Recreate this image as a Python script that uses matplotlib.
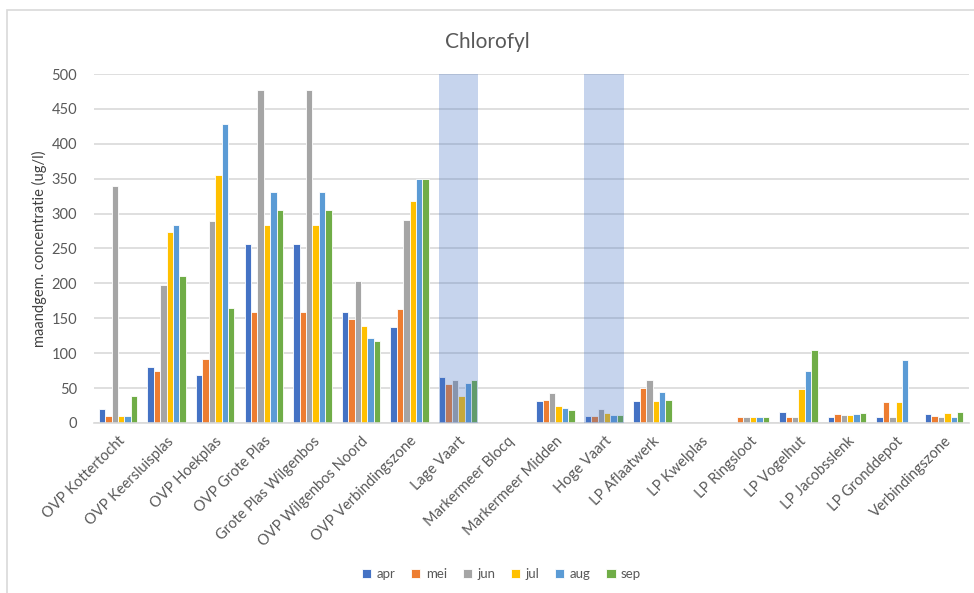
import matplotlib
matplotlib.use("Agg")
import matplotlib.pyplot as plt
import numpy as np
from matplotlib.patches import Rectangle

plt.rcParams['font.family'] = ['Lato', 'DejaVu Sans']

locations = [
    "OVP Kottertocht", "OVP Keersluisplas", "OVP Hoekplas", "OVP Grote Plas",
    "Grote Plas Wilgenbos", "OVP Wilgenbos Noord", "OVP Verbindingszone",
    "Lage Vaart", "Markermeer Blocq", "Markermeer Midden", "Hoge Vaart",
    "LP Aflaatwerk", "LP Kwelplas", "LP Ringsloot", "LP Vogelhut",
    "LP Jacobsslenk", "LP Gronddepot", "Verbindingszone",
]
months = ["apr", "mei", "jun", "jul", "aug", "sep"]
nan = np.nan

apr = [20, 80, 69, 257, 257, 159, 137, 66, nan, 31, 10.5, 31, nan, nan, 16, 9, 9, 13]
mei = [10, 74, 91, 159, 159, 149, 163, 56, nan, 33, 10.5, 50, nan, 9, 9, 13, 30, 10.5]
jun = [340, 198, 289, 477, 477, 203, 291, 61, nan, 43, 20, 61, nan, 9, 9, 11.5, 9, 9]
jul = [10, 274, 355, 283, 283, 139, 318, 38, nan, 25, 15, 32, nan, 9, 48, 11.5, 30, 15]
aug = [10, 283, 429, 331, 331, 122, 350, 57, nan, 22, 11.5, 44, nan, 9, 74, 13, 90, 9]
sep = [39, 211, 165, 305, 305, 118, 350, 61, nan, 18, 11.5, 33, nan, 9, 104, 15, nan, 16]

highlighted = ["Lage Vaart", "Hoge Vaart"]

colors = ["#4472C4", "#ED7D31", "#A5A5A5", "#FFC000", "#5B9BD5", "#70AD47"]
series = [apr, mei, jun, jul, aug, sep]

fig = plt.figure(figsize=(9.74, 5.93), dpi=100)
ax = fig.add_axes([0.0962, 0.2867, 0.8982, 0.5885])

x = np.arange(len(locations))
group_w = 0.79
bar_w = group_w / len(months)
for i, (vals, col, name) in enumerate(zip(series, colors, months)):
    offs = -group_w / 2 + bar_w * (i + 0.5)
    ax.bar(x + offs, vals, width=bar_w, color=col, edgecolor="white",
           linewidth=0.6, label=name, zorder=2)

# translucent bands over the selected locations
for name in highlighted:
    idx = locations.index(name)
    ax.bar(idx, 500, width=group_w + 0.02, color="#4472C4", alpha=0.30,
           linewidth=0, zorder=3)

ax.set_xlim(-0.5, len(locations) - 0.5)
ax.set_ylim(0, 500)
ax.set_yticks(np.arange(0, 501, 50))
ax.yaxis.grid(True, color="#d9d9d9", linewidth=1.2, zorder=0)
ax.set_axisbelow(True)
for s in ["top", "right", "left"]:
    ax.spines[s].set_visible(False)
ax.spines["bottom"].set_color("#d9d9d9")
ax.spines["bottom"].set_linewidth(1.2)
ax.tick_params(axis="both", length=0, colors="#595959", labelsize=10.5)
ax.tick_params(axis="y", pad=12)
ax.set_xticks(x)
ax.set_xticklabels(locations, rotation=45, ha="right", rotation_mode="anchor",
                   fontsize=10.5, color="#595959")
ax.tick_params(axis="x", pad=8)

ax.set_ylabel("maandgem. concentratie (ug/l)", fontsize=10.5, color="#404040",
              labelpad=3)
fig.text(0.5, 0.930, "Chlorofyl", ha="center", va="center", fontsize=15,
         color="#595959")

leg = fig.legend(loc="center", bbox_to_anchor=(0.515, 0.032), ncol=6,
                 frameon=False, fontsize=9.5, handlelength=0.7,
                 handleheight=0.7, handletextpad=0.4, columnspacing=1.2)
for t in leg.get_texts():
    t.set_color("#595959")

# chart area border (runs off the right and bottom edges)
fig.patches.append(Rectangle((0.0072, -0.1), 1.2, 0.983 + 0.1,
                             transform=fig.transFigure, fill=False,
                             edgecolor="#d9d9d9", linewidth=1.2))

fig.savefig("out.png", dpi=100)
